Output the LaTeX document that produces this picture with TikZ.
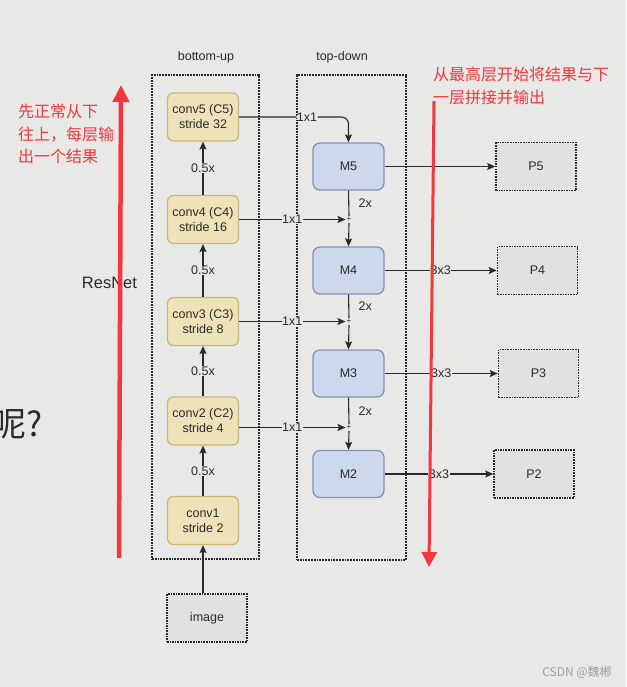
\documentclass[tikz,border=0pt]{standalone}
\usepackage{fontspec}
\setmainfont{Liberation Sans}
\newfontfamily\cjk{Noto Sans CJK SC}
\usetikzlibrary{positioning,arrows.meta}
\definecolor{bgcol}{HTML}{E8E9E6}
\definecolor{convfill}{HTML}{EEE2B8}
\definecolor{convdraw}{HTML}{C6B57C}
\definecolor{mfill}{HTML}{CCD8EB}
\definecolor{mdraw}{HTML}{8592AD}
\definecolor{pfill}{HTML}{E1E2E0}
\definecolor{redmark}{HTML}{F4363D}
\definecolor{ink}{HTML}{2A2A2A}

\begin{document}
\begin{tikzpicture}[x=1pt, y=-1pt,
    txt/.style={font=\fontsize{12.5}{15}\selectfont, text=ink},
    conv/.style={txt, draw=convdraw, fill=convfill, rounded corners=6pt, line width=1.2pt,
                 minimum width=71pt, minimum height=48pt, align=center, inner sep=0pt},
    mbox/.style={txt, draw=mdraw, fill=mfill, rounded corners=7pt, line width=1.3pt,
                 minimum width=71pt, minimum height=47pt, inner sep=0pt},
    pbox/.style={txt, draw=ink, fill=pfill, densely dotted, line width=1.6pt,
                 minimum width=80pt, minimum height=48pt, inner sep=0pt},
    grp/.style={draw=ink, densely dotted, line width=1.8pt, inner sep=0pt},
    lbl/.style={txt, fill=bgcol, inner sep=0.5pt},
    arr/.style={-{Stealth[length=8pt,width=7pt,inset=1.5pt]}, line width=1.1pt, draw=ink},
    ln/.style={line width=1.1pt, draw=ink},
    redarr/.style={draw=redmark, line width=4.5pt, -{Triangle[length=17pt,width=16pt]}},
    redtxt/.style={font=\cjk\fontsize{16}{22.5}\selectfont, text=redmark, align=left,
                   anchor=north west, inner sep=0pt},
]
\useasboundingbox (0,0) rectangle (626,687);
\fill[bgcol] (0,0) rectangle (626,687);

% ===== Group boxes =====
\node[grp, minimum width=107pt, minimum height=484pt] at (205.5,317) (bu) {};
\node[grp, minimum width=109pt, minimum height=485pt] at (351.5,317.5) (td) {};
\node[txt] at (206,57) (buhead) {bottom-up};
\node[txt] at (342,57) (tdhead) {top-down};

% ===== Bottom-up path =====
\node[conv] at (203,117) (c5) {conv5 (C5)\\stride 32};
\node[conv] at (203,219.5) (c4) {conv4 (C4)\\stride 16};
\node[conv] at (203,321.5) (c3) {conv3 (C3)\\stride 8};
\node[conv] at (203,421) (c2) {conv2 (C2)\\stride 4};
\node[conv] at (203,520.5) (c1) {conv1\\stride 2};
\node[pbox] at (207,618) (img) {image};

% ===== Top-down path =====
\node[mbox] at (348.5,166.5) (m5) {M5};
\node[mbox] at (348.5,270.5) (m4) {M4};
\node[mbox] at (348.5,373.5) (m3) {M3};
\node[mbox] at (348.5,474) (m2) {M2};
\node[font=\fontsize{8}{8}\selectfont, text=ink, inner sep=1pt] at (349,219.5) (plus4) {+};
\node[font=\fontsize{8}{8}\selectfont, text=ink, inner sep=1pt] at (349,321.5) (plus3) {+};
\node[font=\fontsize{8}{8}\selectfont, text=ink, inner sep=1pt] at (349,427.5) (plus2) {+};

% ===== Outputs =====
\node[pbox] at (536,166.5) (p5) {P5};
\node[pbox] at (537.5,270.5) (p4) {P4};
\node[pbox] at (538.5,373.5) (p3) {P3};
\node[pbox] at (534,474) (p2) {P2};

% ===== Arrows: bottom-up =====
\draw[arr] (c1.south |- img.north) -- (c1.south);
\draw[arr] (c1.north) -- (c2.south) node[lbl, midway] {0.5x};
\draw[arr] (c2.north) -- (c3.south) node[lbl, midway] {0.5x};
\draw[arr] (c3.north) -- (c4.south) node[lbl, midway] {0.5x};
\draw[arr] (c4.north) -- (c5.south) node[lbl, midway] {0.5x};

% ===== Arrows: lateral 1x1 =====
\draw[arr, rounded corners=7pt] (c5.east) -| (m5.north) node[lbl, pos=0.31] {1x1};
\draw[arr] (c4.east) -- (plus4.west) node[lbl, midway] {1x1};
\draw[arr] (c3.east) -- (plus3.west) node[lbl, midway] {1x1};
\draw[arr] (c2.east |- plus2) -- (plus2.west) node[lbl, midway] {1x1};

% ===== Arrows: top-down =====
\draw[ln] (m5.south) -- (plus4.north) node[txt, midway, right=6pt] {2x};
\draw[arr] (plus4.south) -- (m4.north);
\draw[ln] (m4.south) -- (plus3.north) node[txt, midway, right=6pt] {2x};
\draw[arr] (plus3.south) -- (m3.north);
\draw[ln] (m3.south) -- (plus2.north) node[txt, midway, right=6pt] {2x};
\draw[arr] (plus2.south) -- (m2.north);

% ===== Arrows: outputs =====
\draw[arr] (m5.east) -- (p5.west);
\draw[arr] (m4.east) -- (p4.west) node[lbl, midway] {3x3};
\draw[arr] (m3.east) -- (p3.west) node[lbl, midway] {3x3};
\draw[arr] (m2.east) -- (p2.west) node[lbl, midway] {3x3};

% ===== Slide text and notes =====
\node[font=\fontsize{16.5}{18}\selectfont, text=ink] at (109.5,283) (resnet) {ResNet};
\node[font=\cjk\fontsize{34}{36}\selectfont, text=ink, anchor=west, inner sep=0pt] at (-8,424) (ask) {呢?};
\node[redtxt] at (18,104) (noteup) {先正常从下\\往上，每层输\\出一个结果};
\node[redtxt] at (433,67) (notedown) {从最高层开始将结果与下\\一层拼接并输出};
\coordinate (upbot) at (119,558);
\coordinate (uptop) at (121,85);
\coordinate (dntop) at (434,101);
\coordinate (dnbot) at (429,567);
\draw[redarr] (upbot) -- (uptop);
\draw[redarr, line width=3pt, -{Triangle[length=15pt,width=15pt]}] (dntop) -- (dnbot);
\node[font=\cjk\fontsize{12}{12}\selectfont, text=gray!75] at (577,672) (mark) {CSDN @魏郴};

\end{tikzpicture}
\end{document}
